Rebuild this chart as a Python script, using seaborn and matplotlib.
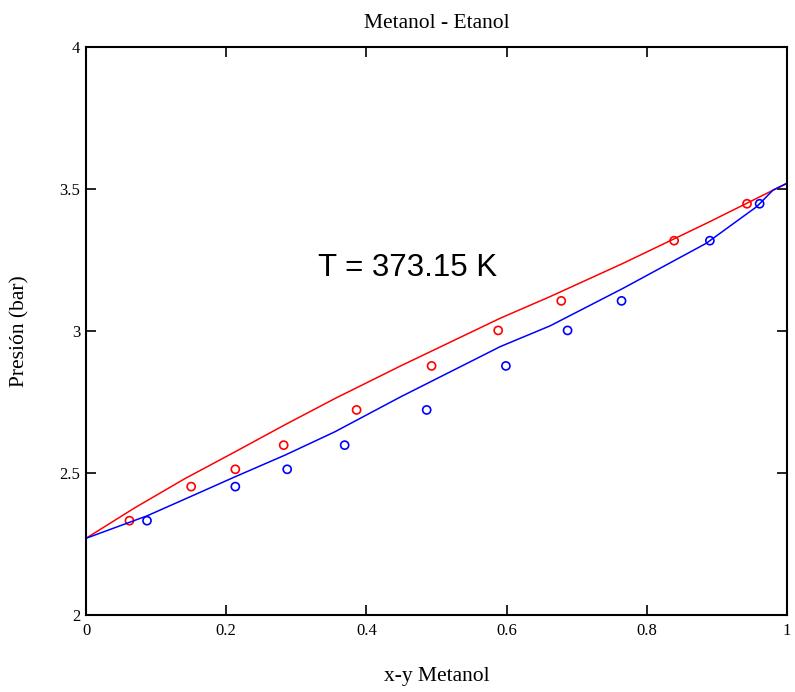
import matplotlib
matplotlib.use("Agg")
import matplotlib.pyplot as plt
import seaborn as sns
import pandas as pd

# Experimental equilibrium data, methanol-ethanol at 373.15 K
x_exp = [0.062, 0.150, 0.213, 0.282, 0.386, 0.493, 0.588, 0.678, 0.839, 0.943]
y_exp = [0.087, 0.213, 0.287, 0.369, 0.486, 0.599, 0.687, 0.764, 0.890, 0.961]
p_exp = [2.332, 2.452, 2.513, 2.598, 2.722, 2.877, 3.002, 3.106, 3.318, 3.448]

# Calculated bubble-point curve (P vs x)
x_bub = [0.0, 0.070, 0.141, 0.213, 0.284, 0.355, 0.448, 0.591, 0.662, 0.766, 0.885, 1.0]
p_bub = [2.270, 2.378, 2.480, 2.575, 2.670, 2.762, 2.876, 3.045, 3.121, 3.238, 3.379, 3.520]

# Calculated dew-point curve (P vs y)
y_dew = [0.0, 0.087, 0.141, 0.213, 0.284, 0.355, 0.448, 0.591, 0.662, 0.766, 0.885, 0.957, 0.980, 1.0]
p_dew = [2.270, 2.349, 2.408, 2.487, 2.563, 2.645, 2.767, 2.945, 3.018, 3.150, 3.309, 3.438, 3.496, 3.520]

x_ticks = [0, 0.2, 0.4, 0.6, 0.8, 1]
x_ticklabels = ["0", "0.2", "0.4", "0.6", "0.8", "1"]
p_ticks = [2, 2.5, 3, 3.5, 4]
p_ticklabels = ["2", "2.5", "3", "3.5", "4"]

sns.set_theme(style="white")
serif = ["Liberation Serif", "DejaVu Serif"]
plt.rcParams["font.family"] = serif

fig = plt.figure(figsize=(7.95, 6.92), dpi=100)
ax = fig.add_axes([0.1082, 0.1113, 0.8817, 0.8208])

bub = pd.DataFrame({"frac": x_bub, "P": p_bub})
dew = pd.DataFrame({"frac": y_dew, "P": p_dew})
liq = pd.DataFrame({"frac": x_exp, "P": p_exp})
vap = pd.DataFrame({"frac": y_exp, "P": p_exp})

sns.lineplot(data=bub, x="frac", y="P", color="#ff0000", lw=1.1,
             sort=False, estimator=None, ax=ax)
sns.lineplot(data=dew, x="frac", y="P", color="#0000ff", lw=1.1,
             sort=False, estimator=None, ax=ax)
sns.scatterplot(data=liq, x="frac", y="P", marker="o", s=34,
                facecolors="none", edgecolor="#ff0000", linewidth=1.2, ax=ax)
sns.scatterplot(data=vap, x="frac", y="P", marker="o", s=34,
                facecolors="none", edgecolor="#0000ff", linewidth=1.2, ax=ax)

ax.set_xlim(0, 1)
ax.set_ylim(2, 4)
ax.set_xticks(x_ticks)
ax.set_xticklabels(x_ticklabels)
ax.set_yticks(p_ticks)
ax.set_yticklabels(p_ticklabels)

for s in ax.spines.values():
    s.set_visible(True)
    s.set_color("black")
    s.set_linewidth(1.5)

ax.tick_params(axis="x", direction="in", length=7, width=1.2, colors="black",
               labelsize=12, pad=6, top=True, bottom=True)
ax.tick_params(axis="y", direction="in", length=7, width=1.2, colors="black",
               labelsize=12, pad=4, left=True, right=True)

ax.set_title("Metanol - Etanol", fontsize=15.5, color="black", pad=14)
ax.set_xlabel("x-y Metanol", fontsize=15.5, color="black", labelpad=20)
ax.set_ylabel("Presión (bar)", fontsize=15.5, color="black", labelpad=22)

ax.text(0.459, 3.222, "T = 373.15 K", fontsize=22.5, color="black",
        family=["Liberation Sans", "DejaVu Sans"], ha="center", va="center")

fig.savefig("out.png", dpi=100)
